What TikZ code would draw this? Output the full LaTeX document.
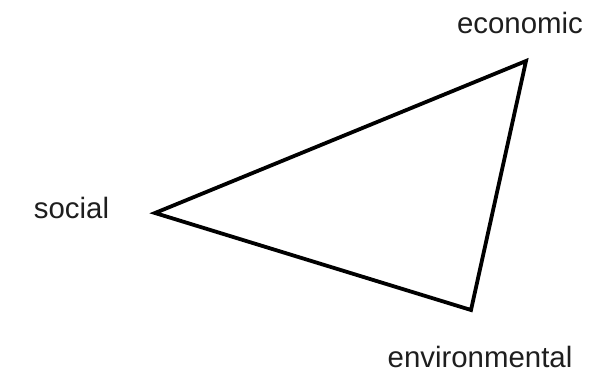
\documentclass[tikz,border=0pt]{standalone}
\usepackage{fontspec}
\setmainfont{Liberation Sans}
\usepackage{tikz}
\usetikzlibrary{positioning,calc}
\definecolor{labelgray}{RGB}{30,30,30}
\tikzset{
  corner/.style = {inner sep=0pt, minimum size=0pt},
  lbl/.style    = {inner sep=0pt, anchor=base, text=labelgray, font=\fontsize{14.7}{17}\selectfont},
  side/.style   = {line width=1.9pt, line join=miter, draw=black},
}

\begin{document}
\begin{tikzpicture}[x=0.5pt, y=-0.5pt]
  \useasboundingbox (0,0) rectangle (598,375);
  \coordinate (eco) at (526,61);
  \coordinate (soc) at (155,213);
  \coordinate (env) at (471,310);
  \node[lbl] (ecolbl) at (520,33) {economic};
  \node[lbl] (soclbl) at (71.5,218) {social};
  \node[lbl] (envlbl) at (480,367) {environmental};
  \draw[side] (soc) -- (eco) -- (env) -- cycle;
\end{tikzpicture}
\end{document}
